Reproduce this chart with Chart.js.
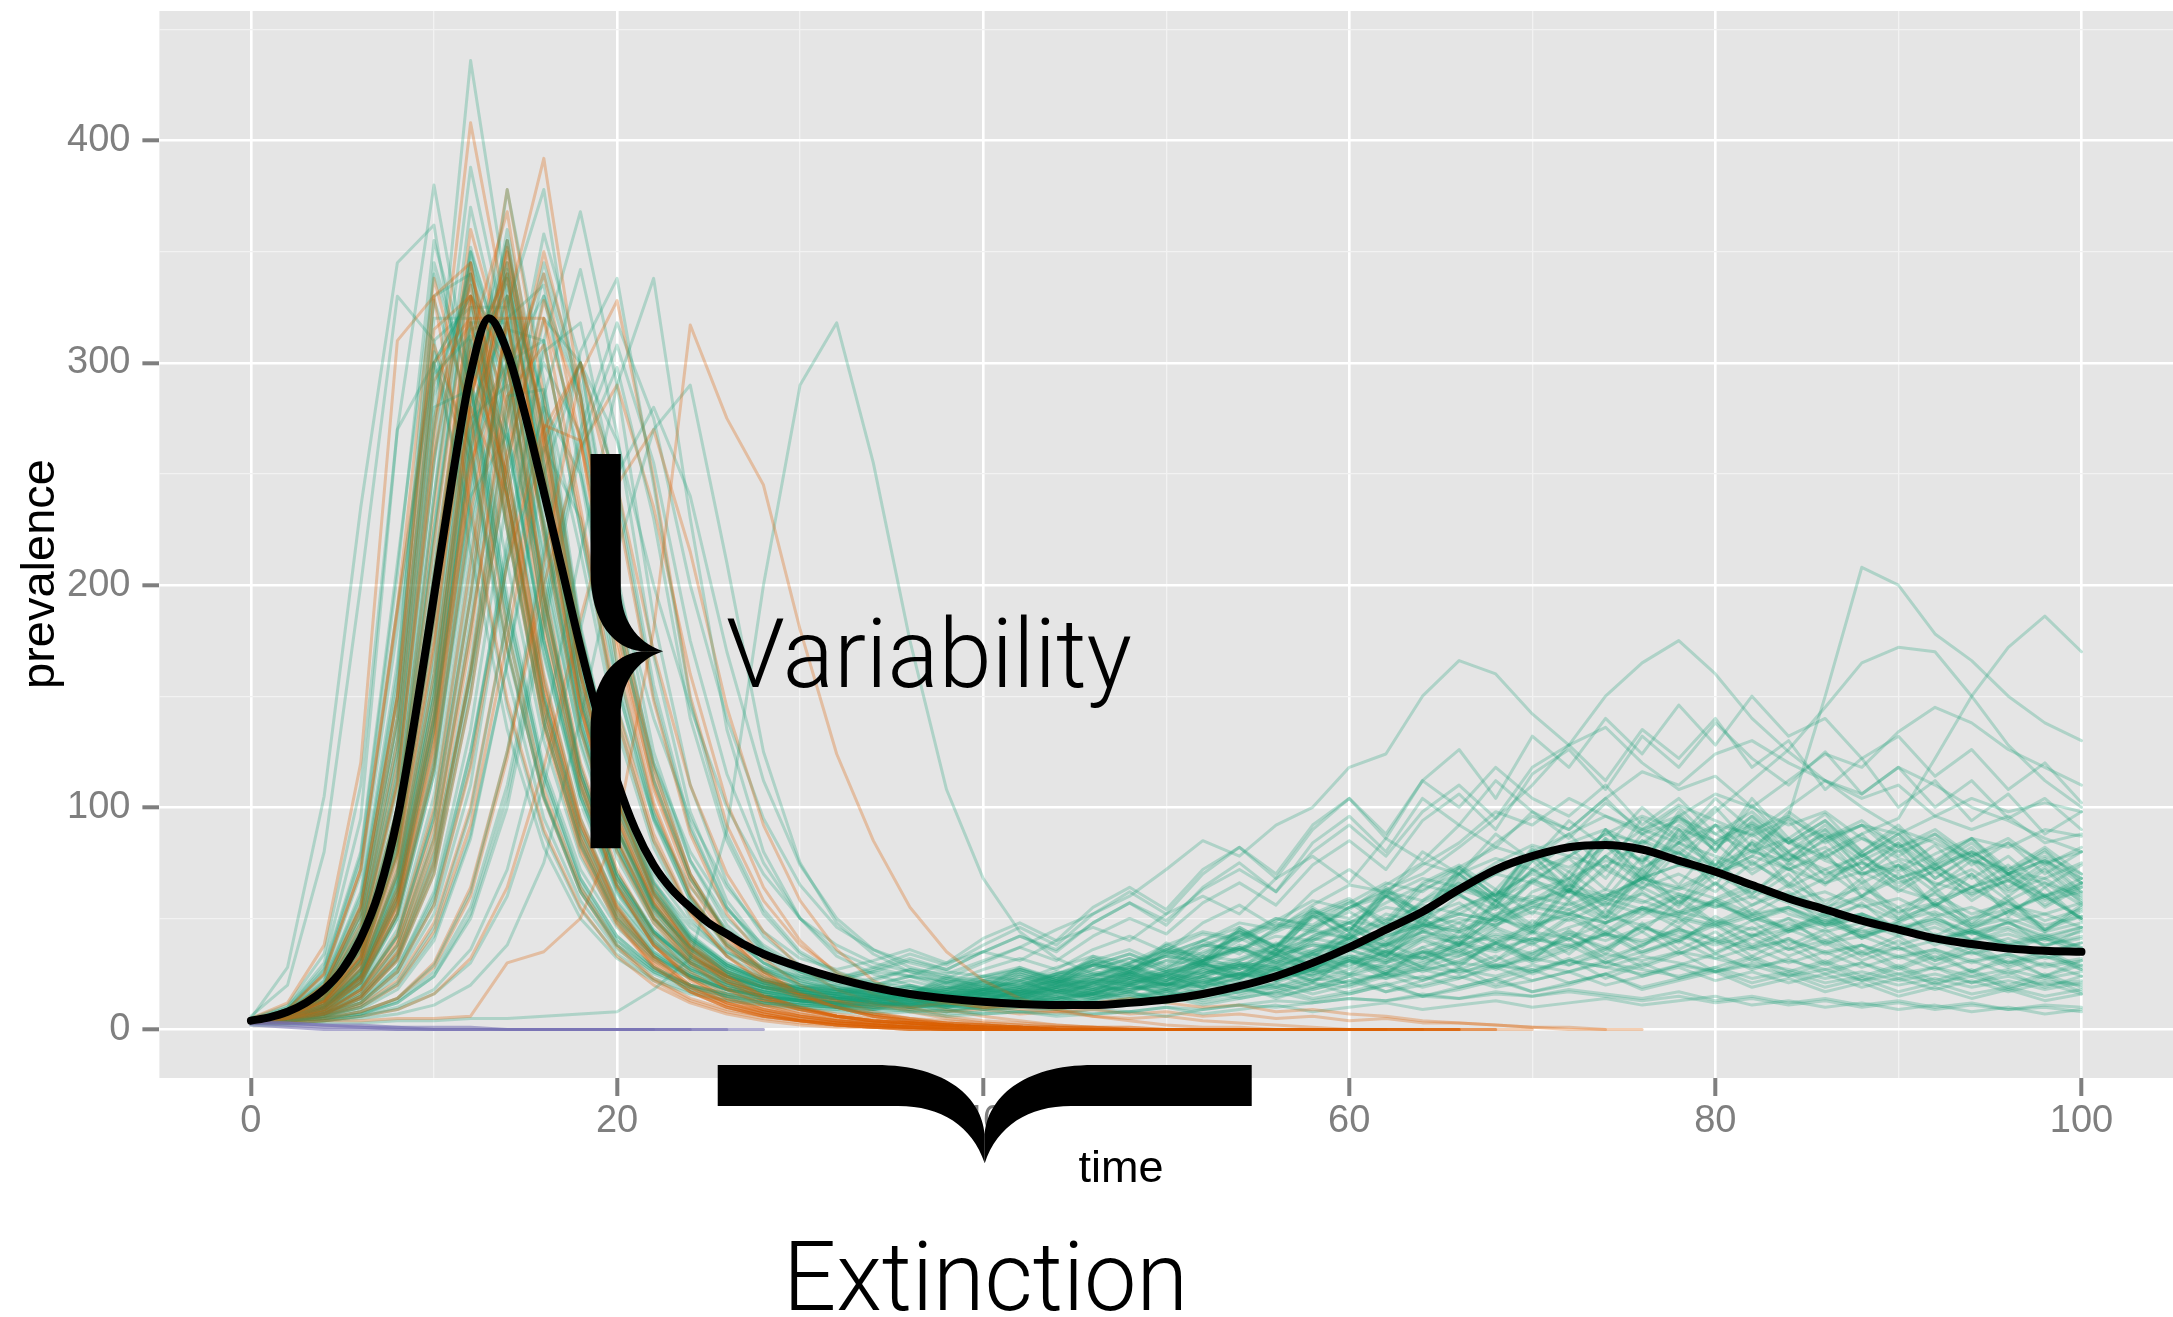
<!DOCTYPE html>
<html>
<head>
<meta charset="utf-8">
<script src="https://cdn.jsdelivr.net/npm/chart.js@4.4.1/dist/chart.umd.min.js"></script>
<style>
html,body{margin:0;padding:0;background:#ffffff;}
#wrap{width:2173px;height:1317px;}
</style>
</head>
<body>
<div id="wrap"><canvas id="c" width="2173" height="1317"></canvas></div>
<script>
// ---------- axes / tick values ----------
const timeSteps = [0,2,4,6,8,10,12,14,16,18,20,22,24,26,28,30,32,34,36,38,40,42,44,46,48,50,52,54,56,58,60,62,64,66,68,70,72,74,76,78,80,82,84,86,88,90,92,94,96,98,100];
const xGridValues = [0,10,20,30,40,50,60,70,80,90,100];
const xLabelValues = [0,20,40,60,80,100];
const yGridValues = [0,50,100,150,200,250,300,350,400,450];
const yLabelValues = [0,100,200,300,400];

// ---------- deterministic (black) curve ----------
const odeTime = [0,1,2,3,4,5,6,7,8,9,10,11,12,13,14,15,16,17,18,19,20,21,22,23,24,25,26,27,28,30,32,34,36,38,40,42,44,46,48,50,52,54,56,58,60,62,64,66,68,70,72,74,76,78,80,82,84,86,88,90,92,94,96,98,100];
const odeValues = [4,5.5,8,12,18,27,41,62,95,142,195,248,295,320,305,276,242,207,172,140,112,90,74,63,55,48,43,38,34,28,23,19,16,14,12.5,11.5,11,11,12,13.5,16,19.5,24,30,37,45,53,63,72,78,82,83,81,76,71,65,59,54,49,45,41,38.5,36.5,35.5,35];

// ---------- stochastic runs that persist (green) ----------
const g1 = [4,10,30,95,270,380,290,180,105,62,38,26,19,15,12,11,10,9,11,10,12,14,13,17,20,19,24,29,27,35,40,38,47,52,49,58,63,57,66,61,55,60,52,47,50,44,40,45,38,35,39];
const g2 = [3,6,16,42,115,270,436,330,200,115,68,44,30,22,18,15,14,13,15,17,16,20,24,22,28,33,31,40,47,44,55,62,58,70,77,72,84,90,83,95,88,80,86,76,70,74,66,61,67,58,62];
const g3 = [4,8,22,60,160,345,290,190,115,68,42,28,20,15,12,10,9,8,9,7,8,10,9,11,13,12,15,18,16,21,19,24,27,23,29,26,31,28,33,30,26,29,24,27,22,25,21,24,19,22,20];
const g4 = [3,5,11,26,68,155,295,355,255,155,92,56,37,26,20,17,16,18,17,21,24,22,28,33,30,38,44,41,50,46,55,60,54,63,58,67,62,56,61,53,58,50,46,51,44,48,41,45,39,43,37];
const g5 = [4,5,9,21,50,115,225,300,245,160,98,60,39,27,21,17,15,14,16,18,17,21,25,23,30,35,33,42,48,45,55,63,70,82,95,110,128,150,165,175,160,140,125,112,100,90,84,76,70,66,60];
const g6 = [3,5,8,19,42,95,195,325,378,275,165,98,60,38,27,20,17,15,16,14,17,19,18,22,26,24,31,36,34,42,49,46,57,64,60,71,78,73,85,79,74,81,72,66,71,63,58,64,56,52,57];
const g7 = [4,5,7,14,31,70,150,255,330,285,185,112,68,43,30,22,18,15,13,14,12,14,16,15,18,21,19,24,28,26,31,35,32,38,42,39,44,40,46,42,38,43,36,40,34,37,31,35,30,33,29];
const g8 = [4,7,19,50,135,295,312,225,138,83,50,33,24,18,15,13,12,11,13,12,15,17,16,20,24,22,27,32,38,35,43,50,46,55,61,57,65,60,68,63,70,64,58,62,55,59,51,55,48,52,46];
const g9 = [3,4,6,10,21,46,98,185,285,342,268,168,98,58,37,26,20,17,15,16,14,17,20,18,23,27,25,31,36,34,41,48,45,54,62,58,68,76,72,84,92,88,100,112,106,118,110,100,94,86,80];
const g10 = [3,4,5,8,14,29,62,125,215,305,338,245,148,88,54,35,26,21,19,17,18,16,19,22,20,25,29,27,33,38,35,42,47,44,51,56,52,59,54,61,56,51,55,48,52,45,49,43,46,40,44];
const g11 = [4,6,13,32,85,195,300,265,175,105,62,39,27,20,16,13,11,10,8,9,7,8,6,7,8,6,9,11,10,12,14,13,16,14,17,15,18,16,14,17,13,15,12,14,11,13,10,12,9,11,10];
const g12 = [5,28,105,235,345,362,262,160,95,58,36,25,18,14,12,11,10,12,11,14,17,16,21,26,24,31,38,36,45,53,50,60,68,64,75,83,78,88,96,90,85,93,84,78,86,77,72,80,71,68,75];
const g13 = [3,3,4,6,10,18,36,72,135,215,290,338,230,135,80,50,33,25,20,17,15,16,14,17,19,18,22,25,23,28,32,30,35,39,36,41,38,43,40,45,41,37,40,35,38,33,36,31,34,29,32];
const g14 = [3,5,11,27,70,160,290,338,245,150,90,55,36,25,19,16,14,13,15,14,16,18,17,20,23,21,26,30,28,34,39,37,44,50,47,55,62,58,68,74,70,78,96,150,208,200,178,166,150,138,130];
const g15 = [4,7,17,45,125,280,288,210,130,78,48,32,23,17,14,12,11,10,12,11,13,15,14,18,22,20,25,30,28,35,41,38,46,52,49,57,63,59,68,74,70,78,72,80,88,95,122,150,172,186,170];
const g16 = [2,2,3,3,4,4,5,5,6,7,8,18,32,90,200,290,318,255,175,108,68,44,32,25,22,20,22,25,24,28,33,31,37,42,40,47,52,48,55,51,47,52,45,49,43,46,40,44,38,41,36];
const g17 = [3,3,4,5,7,11,20,38,75,140,215,270,290,210,125,75,48,34,26,21,18,16,17,15,18,20,19,23,27,25,30,34,32,38,43,40,46,51,47,53,49,45,50,44,48,42,46,40,43,38,41];
const g18 = [3,6,14,38,100,240,352,290,185,110,65,41,28,20,16,13,12,14,12,15,19,17,23,21,27,33,30,38,34,45,41,52,48,60,54,66,59,72,64,70,62,75,66,58,64,55,61,52,57,49,54];
const g19 = [4,5,10,22,52,118,228,308,250,162,100,61,40,28,21,17,14,12,10,11,9,10,12,11,13,15,14,17,20,18,22,25,23,27,24,29,26,30,27,24,28,23,26,21,24,20,23,19,22,18,21];
const g20 = [4,8,22,62,165,328,280,185,112,66,40,27,20,16,14,13,13,15,14,17,20,19,24,29,27,34,40,48,45,56,65,62,74,84,98,92,104,96,88,94,83,90,79,72,78,68,73,64,69,60,65];
const g21 = [3,5,10,25,66,150,280,318,238,148,90,55,36,26,21,19,20,23,27,25,31,37,45,52,60,72,85,78,92,100,118,124,150,166,160,142,128,136,120,108,114,100,92,98,86,80,86,76,72,78,70];
const g22 = [3,5,8,17,38,85,180,285,288,215,135,82,50,33,24,18,15,13,14,12,15,14,18,16,21,25,23,29,26,33,38,35,42,39,47,53,49,57,52,60,55,63,57,51,56,49,53,46,50,44,48];
const g23 = [4,5,7,12,26,56,120,220,305,318,240,150,90,55,36,26,21,18,17,19,18,22,26,24,30,36,34,42,50,47,57,66,62,73,82,77,88,96,90,101,94,87,95,86,92,82,88,78,84,75,80];
const g24 = [4,8,20,55,150,330,340,240,145,86,52,34,24,18,14,12,10,9,10,8,10,12,11,13,15,14,17,20,18,22,25,23,27,30,28,32,29,34,31,35,32,28,31,27,30,25,28,24,27,23,26];
const g25 = [3,5,10,24,62,145,270,300,228,142,86,53,35,25,19,16,14,15,13,16,18,17,21,25,23,28,33,31,38,44,41,49,56,52,61,70,66,78,90,84,98,112,126,145,165,172,170,150,128,112,100];
const g26 = [3,4,7,15,33,75,160,275,358,300,195,118,70,44,30,22,18,16,15,17,16,19,22,21,26,31,29,36,42,40,48,55,52,62,70,66,78,88,84,96,106,100,112,124,118,134,145,138,126,118,110];
const g27 = [4,6,14,35,92,210,318,270,175,105,63,40,28,21,17,14,12,11,12,10,12,14,13,16,19,17,21,25,22,27,31,28,34,38,35,41,37,43,39,45,40,36,41,34,38,32,36,30,34,28,31];
const g28 = [3,5,9,21,52,120,240,342,270,172,104,63,41,29,22,18,16,14,15,13,16,15,19,22,20,25,29,27,33,38,36,43,48,45,52,57,54,61,57,64,59,66,60,55,60,53,57,50,54,47,51];
const g29 = [5,11,34,110,270,300,230,145,88,54,34,23,17,13,11,9,8,7,8,6,7,8,7,9,8,10,9,11,13,12,14,13,15,14,16,15,17,15,13,15,12,14,11,13,10,12,9,11,9,10,8];
const g30 = [3,4,6,9,18,40,86,165,260,300,245,155,92,55,35,25,19,16,14,13,14,12,14,16,15,18,21,19,23,27,25,30,35,33,39,44,41,48,54,51,58,64,60,68,75,71,79,86,82,90,87];
const g31 = [3,6,15,40,108,255,388,310,195,115,68,43,29,21,17,15,14,16,15,18,22,20,25,31,29,36,43,40,49,58,54,65,75,70,84,96,90,104,116,110,124,130,120,112,104,110,96,90,96,84,88];
const g32 = [4,5,11,26,64,140,240,268,205,130,80,50,34,24,18,15,13,11,12,10,11,13,12,14,16,15,18,21,19,23,21,25,28,26,29,27,31,28,25,29,26,30,27,23,26,22,25,21,24,20,22];
const g33 = [4,5,7,13,28,60,125,210,262,230,155,95,58,37,26,20,16,14,15,14,17,16,20,23,21,26,30,28,34,39,36,42,47,44,50,46,52,48,55,50,46,51,44,48,42,46,40,44,38,42,37];
const g34 = [3,4,5,7,12,24,50,100,180,260,298,230,140,85,52,34,25,20,17,15,16,14,16,19,18,22,26,24,29,34,32,38,44,41,48,55,52,60,68,64,72,80,76,85,92,88,96,104,98,102,98];
const g35 = [4,9,24,70,180,305,262,172,104,62,38,26,19,15,13,11,10,12,11,13,16,15,19,23,21,26,31,29,35,41,38,45,51,48,55,60,56,63,58,52,57,49,54,46,51,43,48,40,45,38,42];
const g36 = [3,5,10,23,58,135,265,378,292,182,110,66,42,29,22,18,16,17,15,18,21,20,25,29,27,33,38,36,44,51,48,57,65,61,70,78,73,82,76,84,78,72,79,70,75,66,71,62,67,59,64];
const g37 = [4,7,18,52,140,300,330,240,150,90,55,35,25,19,15,13,12,15,11,16,13,18,22,17,26,21,30,24,36,29,42,35,50,41,58,47,63,52,70,57,66,52,61,47,57,44,52,40,49,37,45];
const g38 = [3,5,12,30,80,185,310,330,230,140,84,52,34,24,19,16,14,18,13,20,16,24,19,29,23,35,28,44,33,52,40,61,47,70,55,79,62,86,68,90,72,84,65,80,60,74,55,70,51,64,49];
const g39 = [4,6,14,36,95,220,345,300,195,118,70,44,30,22,17,14,12,9,13,10,15,11,17,13,20,15,24,18,28,21,33,25,37,28,41,31,45,34,48,36,44,33,41,30,38,28,35,26,33,24,31];
const g40 = [3,5,9,22,56,130,255,350,280,175,105,64,42,30,23,19,17,21,16,24,19,28,22,33,26,39,31,46,37,55,44,64,52,73,60,82,68,90,75,96,80,101,84,94,78,88,72,82,67,77,62];
const g41 = [4,8,21,58,155,320,320,225,138,83,50,33,24,18,15,13,11,14,10,13,9,12,15,11,14,18,13,17,21,16,20,25,19,23,28,22,26,31,24,29,34,27,32,25,30,23,28,21,26,19,24];
const g42 = [3,5,10,25,64,150,285,340,250,155,94,58,38,27,21,17,15,12,16,13,18,14,21,16,25,19,30,23,36,28,43,33,50,39,58,45,66,51,72,57,77,61,73,56,68,52,64,48,60,45,56];
const g43 = [4,6,12,30,78,180,315,320,225,138,82,50,33,24,19,16,14,17,20,16,22,26,21,29,34,27,38,44,36,50,57,47,63,70,58,76,82,68,88,79,92,74,86,69,80,64,75,60,70,56,66];
const g44 = [3,4,7,15,34,78,165,280,345,290,185,112,68,43,30,23,19,16,20,15,18,22,17,21,26,20,25,30,23,28,34,26,31,37,29,35,41,32,38,44,35,41,33,39,31,37,29,35,28,33,27];
const g45 = [4,7,17,46,125,285,340,245,150,90,54,35,25,19,15,13,12,10,14,11,16,13,19,15,23,18,28,22,34,26,41,32,48,38,56,44,63,50,69,55,74,59,70,54,66,50,62,47,58,44,55];
const g46 = [3,5,11,27,70,165,300,345,245,150,90,56,37,26,20,17,15,19,14,21,17,25,20,30,24,36,29,43,35,51,42,60,49,68,56,76,62,83,67,88,71,92,74,86,69,81,64,76,60,72,57];
const g47 = [4,6,13,32,84,195,330,310,210,128,77,48,32,23,18,15,13,11,14,12,16,14,18,16,21,18,24,21,27,24,31,27,35,30,39,34,43,37,46,40,49,42,45,39,42,36,40,34,38,32,36];
const g48 = [3,4,8,18,42,98,205,320,335,250,155,94,58,38,27,21,18,15,19,16,21,18,24,20,28,23,33,27,39,32,46,38,54,45,63,52,71,59,78,65,84,70,80,66,76,62,72,58,68,55,64];
const g49 = [5,10,28,80,210,340,290,190,115,68,42,28,20,16,13,11,10,13,9,12,15,11,14,18,13,17,22,16,21,27,20,26,33,25,31,39,29,36,44,34,41,49,38,45,35,42,32,39,30,36,28];
const g50 = [3,5,10,24,60,140,270,355,265,165,100,61,40,28,22,18,16,14,17,15,19,17,22,19,25,22,29,25,33,29,38,33,44,38,51,44,58,50,64,56,70,61,75,65,79,68,74,64,70,60,66];
const g51 = [4,6,12,31,82,190,325,325,225,138,82,50,33,24,19,16,14,12,10,11,9,11,13,10,12,15,11,14,17,13,16,20,15,18,22,17,20,25,19,23,27,21,25,19,23,17,21,16,19,15,18];
const g52 = [3,5,9,21,52,122,245,335,275,172,104,63,41,29,22,18,16,19,15,22,18,26,21,31,25,37,30,45,36,54,44,63,52,72,60,81,67,90,74,98,80,104,86,97,80,92,75,86,70,81,66];
const g53 = [4,7,16,42,112,255,350,270,170,102,61,39,27,20,16,14,12,15,11,16,12,18,14,21,16,24,19,28,22,32,25,36,28,40,31,44,34,47,37,50,39,46,36,43,33,40,31,37,29,35,27];
const g54 = [3,4,7,16,38,88,185,300,330,255,160,97,60,39,28,21,18,15,13,15,12,15,18,14,17,21,16,20,25,19,24,29,22,27,33,25,31,37,28,34,40,31,37,29,35,27,33,26,31,24,29];
const g55 = [4,8,20,55,148,310,325,232,142,85,51,33,24,18,15,13,12,14,16,13,18,21,17,24,28,22,31,36,29,40,46,37,51,57,46,62,68,55,73,80,65,85,76,90,72,84,68,78,63,73,59];
const g56 = [3,5,11,28,72,170,305,340,240,148,89,55,36,26,20,16,14,12,15,13,17,15,20,17,23,20,27,23,31,27,36,31,41,35,46,40,51,44,55,48,59,52,55,49,52,46,50,44,48,42,46];
const g57 = [4,6,14,37,98,225,350,300,195,118,70,44,30,22,17,14,12,10,13,11,15,12,17,14,20,16,23,19,27,22,31,25,35,29,39,32,43,36,47,39,51,42,48,40,45,38,43,36,41,34,39];
const g58 = [3,4,6,12,28,62,135,240,320,300,205,125,76,47,32,24,19,17,15,16,14,16,19,16,20,24,19,23,28,22,27,33,26,31,38,30,36,43,34,40,47,37,44,52,41,48,56,45,53,60,50];
const g59 = [4,7,18,48,130,290,335,240,148,88,53,34,24,18,15,13,11,13,10,12,14,11,13,16,12,15,18,14,17,21,16,20,24,19,23,27,21,25,30,23,28,33,26,31,24,29,22,27,20,25,19];
const g60 = [3,5,10,23,58,135,260,345,270,170,103,62,41,29,22,18,16,19,22,18,24,28,23,31,36,29,40,46,37,52,59,47,65,73,60,80,88,72,95,85,100,82,94,77,88,72,83,68,78,64,74];
const g61 = [4,6,12,30,80,185,318,318,222,135,81,50,33,24,19,16,14,12,14,11,13,15,12,14,17,13,16,19,15,18,22,17,20,24,19,22,26,20,24,28,22,26,21,25,19,23,18,22,17,21,16];
const g62 = [3,5,9,20,50,115,235,330,285,180,110,67,43,30,23,19,17,20,16,23,19,27,22,32,26,38,31,45,37,53,44,62,51,70,58,78,64,85,70,90,74,94,77,88,72,83,68,79,64,75,61];
const g63 = [4,7,17,44,118,270,345,255,158,95,57,37,26,19,15,13,11,14,12,16,13,18,15,21,17,25,20,29,24,34,28,39,32,44,36,49,40,54,44,58,47,54,44,50,41,47,38,44,36,41,34];
const g64 = [3,4,8,19,45,105,215,315,310,225,140,85,53,35,26,20,17,15,18,16,20,17,23,19,26,22,30,25,34,29,39,33,45,38,51,43,57,48,62,52,66,56,62,53,59,50,56,47,53,45,51];
const g65 = [3,4,6,11,24,52,110,210,310,368,290,185,110,66,42,29,22,26,31,27,35,42,36,48,57,49,63,72,62,80,92,78,98,110,95,118,128,112,135,122,140,118,130,108,122,100,112,94,106,88,98];
const g66 = [3,4,5,7,13,26,55,110,190,270,318,275,200,140,95,65,46,36,30,26,24,27,23,29,34,28,37,44,38,51,58,49,66,74,63,80,71,86,76,92,81,96,84,90,78,86,74,80,70,76,66];
const g67 = [4,5,8,16,36,80,160,250,300,268,200,140,95,64,44,32,27,31,36,30,41,48,40,55,64,54,72,82,70,92,104,88,112,100,118,104,96,110,92,104,88,98,84,94,80,90,76,86,72,82,70];
const g68 = [6,20,80,200,330,310,215,135,82,50,32,22,16,13,11,10,9,11,14,10,13,17,12,16,21,15,20,26,19,25,31,23,29,36,27,34,41,30,38,46,34,42,50,38,46,55,42,50,58,45,53];
const g69 = [3,3,4,6,9,16,30,60,110,180,250,280,240,170,112,74,50,36,28,24,22,25,21,27,32,26,35,41,34,46,53,44,58,66,55,72,64,78,68,84,74,88,76,82,70,76,65,72,62,68,58];
const g70 = [3,6,15,38,100,240,370,300,190,115,70,45,32,25,21,19,18,22,27,23,30,37,31,42,50,43,57,66,56,74,85,72,94,106,90,115,126,108,132,118,138,122,110,125,106,118,100,112,95,104,90];
const g71 = [4,5,10,24,60,140,260,330,255,165,102,66,46,34,27,23,22,26,24,30,35,31,40,46,40,52,60,52,68,78,66,86,76,92,82,98,86,102,90,96,84,92,80,88,76,84,72,80,70,76,68];
const g72 = [4,9,26,75,190,300,255,170,105,64,40,27,20,16,13,12,11,9,12,8,11,14,10,13,17,12,16,20,14,19,24,17,22,28,20,26,32,23,29,35,26,32,24,30,22,28,20,26,18,24,17];
const g73 = [3,4,7,14,32,72,155,265,340,285,190,120,76,50,35,27,23,20,24,19,23,27,22,27,32,26,31,37,30,36,43,34,41,48,39,46,54,43,51,60,48,56,65,52,60,70,56,64,74,60,68];
const g74 = [4,6,13,34,90,205,310,265,175,108,66,43,31,24,20,18,17,20,24,21,27,32,27,36,42,35,48,56,46,62,72,60,80,70,88,76,94,82,100,86,104,90,96,84,92,78,88,74,84,70,80];
const g75 = [3,4,6,10,20,42,88,165,250,300,265,200,145,100,70,50,38,30,26,23,21,24,20,25,29,24,32,37,31,42,48,40,54,61,51,68,58,74,63,80,68,84,72,78,66,74,62,70,58,66,56];
const g76 = [4,7,19,52,140,300,330,240,150,92,58,38,27,21,17,15,14,12,11,13,10,12,15,11,14,17,12,15,19,14,17,21,15,19,23,17,21,25,18,22,26,19,23,17,21,15,19,14,18,13,16];
const g77 = [3,5,10,23,57,135,265,360,280,178,110,70,48,35,28,24,23,28,34,29,38,46,38,52,62,52,70,82,68,90,104,86,112,126,104,132,118,140,124,146,128,150,132,140,122,132,114,126,108,120,102];
const g78 = [4,5,11,27,68,155,275,290,215,135,84,54,37,28,22,19,18,16,19,15,18,22,17,21,25,20,24,29,22,27,32,25,30,35,28,33,38,30,35,40,32,37,30,35,28,33,27,31,25,30,24];
const g79 = [4,5,7,12,26,58,125,215,280,250,180,120,80,54,38,28,23,27,32,27,35,42,35,48,57,47,64,75,62,84,96,80,104,92,112,98,90,104,88,100,84,96,80,92,78,88,74,84,70,80,68];
const g80 = [3,6,14,36,95,225,340,285,185,112,68,44,31,24,19,17,15,13,16,14,18,16,21,18,24,20,28,23,32,27,36,30,40,34,45,38,50,42,54,46,58,49,55,47,52,45,50,43,48,41,46];
const g81 = [3,4,5,7,12,24,52,105,185,265,308,255,175,115,75,50,35,28,24,22,20,23,19,24,29,23,31,37,30,41,48,39,53,61,50,67,77,63,85,74,92,80,98,86,94,82,90,78,86,74,82];
const g82 = [4,9,27,78,205,355,295,195,118,72,46,31,23,18,15,14,13,16,14,18,22,19,25,30,25,34,40,34,46,54,45,60,52,66,58,72,62,78,66,82,70,76,64,72,60,68,56,64,54,60,50];
const g83 = [3,5,8,18,42,95,195,300,310,225,145,95,64,45,33,26,22,19,17,19,16,19,22,18,22,26,21,25,30,24,29,35,28,33,39,31,37,44,35,41,48,38,45,53,42,49,57,46,53,61,50];
const g84 = [4,6,13,32,85,190,290,250,168,105,65,42,30,23,19,17,15,13,11,9,10,8,9,7,8,10,7,9,11,8,10,12,9,11,13,10,12,14,11,13,15,11,13,10,12,9,11,8,10,7,9];
const greenRuns = [g1,g2,g3,g4,g5,g6,g7,g8,g9,g10,g11,g12,g13,g14,g15,g16,g17,g18,g19,g20,g21,g22,g23,g24,g25,g26,g27,g28,g29,g30,g31,g32,g33,g34,g35,g36,g37,g38,g39,g40,g41,g42,g43,g44,g45,g46,g47,g48,g49,g50,g51,g52,g53,g54,g55,g56,g57,g58,g59,g60,g61,g62,g63,g64,g65,g66,g67,g68,g69,g70,g71,g72,g73,g74,g75,g76,g77,g78,g79,g80,g81,g82,g83,g84];

// ---------- stochastic runs that go extinct after the first wave (orange) ----------
const o1 = [3,6,15,40,110,265,408,320,195,112,64,38,22,13,8,5,3,2,1,1,0,0,0,0,0,0];
const o2 = [4,5,11,27,70,160,285,338,240,145,85,50,30,18,11,7,4,3,2,1,1,0,0,0,0,0,0,0];
const o3 = [4,8,20,55,150,330,345,245,148,88,52,31,19,12,8,5,3,2,1,0,0,0,0,0];
const o4 = [3,5,9,21,52,118,232,318,250,160,98,60,37,24,15,10,7,5,3,2,1,1,0,0,0,0,0,0,0,0];
const o5 = [3,5,8,18,40,92,195,325,392,285,172,102,61,38,24,15,10,7,5,3,2,1,1,0,0,0,0,0,0];
const o6 = [4,6,13,33,88,200,298,250,160,95,56,33,20,12,7,4,2,1,0,0,0,0,0];
const o7 = [4,5,7,14,31,70,150,255,328,280,180,108,65,40,25,16,10,6,4,2,1,0,0,0,0,0,0,0,0,0,0,0];
const o8 = [3,3,4,4,5,5,6,30,35,50,90,180,317,275,245,180,124,85,55,35,22,14,9,6,4,2,1,1,0,0,0,0,0,0];
const o9 = [4,9,25,72,190,338,275,180,108,64,38,23,14,9,6,4,2,1,1,0,0,0,0,0,0,0];
const o10 = [3,5,12,30,78,175,310,368,265,160,95,57,35,22,14,9,6,4,3,2,1,1,0,0,0,0,0,0,0,0,0,0,0];
const o11 = [3,4,6,10,20,44,92,175,265,300,235,148,88,52,32,20,13,8,5,3,2,1,0,0,0,0,0,0];
const o12 = [4,6,13,32,85,190,280,240,155,92,54,32,19,11,7,4,3,2,1,1,0,0,0,0,0,0,0,0,0,0,0,0,0,0];
const o13 = [3,5,10,23,56,128,250,352,272,172,104,62,38,24,15,10,6,4,3,2,1,0,0,0,0,0];
const o14 = [4,7,18,48,130,292,318,225,136,80,47,28,17,10,6,4,2,1,0,0,0,0,0,0,0,0,0,0,0,0];
const o15 = [3,4,5,8,14,28,60,122,210,295,328,248,150,92,58,38,26,19,15,12,10,9,8,9,7,8,6,7,5,6,4,5,3,3,2,1,1,0,0];
const o16 = [3,5,8,17,38,86,180,285,308,230,140,85,52,33,22,16,13,11,10,12,10,11,9,12,14,12,10,11,8,9,7,6,4,3,2,1,0,0];
const o17 = [5,12,38,120,310,330,235,148,90,55,33,20,12,7,4,2,1,1,0,0,0,0,0];
const o18 = [4,5,7,12,26,56,118,210,272,265,190,118,70,42,26,16,10,6,4,2,1,1,0,0,0,0,0,0,0,0];
const o19 = [4,7,17,45,120,275,335,240,145,86,50,30,18,11,7,4,3,2,1,1,0,0,0,0,0,0,0];
const o20 = [3,5,11,28,74,172,305,340,240,145,86,51,31,19,12,8,5,3,2,1,1,0,0,0,0,0,0,0,0,0];
const o21 = [4,6,14,36,96,218,340,290,185,110,65,38,23,14,9,6,4,2,1,1,0,0,0,0,0,0];
const o22 = [3,5,9,21,54,125,248,345,270,170,102,61,37,23,15,10,6,4,3,2,1,1,0,0,0,0,0,0,0,0,0];
const o23 = [4,8,20,56,150,315,330,235,142,84,49,29,17,10,6,4,2,1,1,0,0,0,0,0];
const o24 = [3,4,7,15,35,82,175,295,340,265,165,100,60,37,23,15,10,6,4,3,2,1,1,0,0,0,0,0,0,0,0,0];
const o25 = [4,6,13,33,88,200,330,300,200,120,72,43,26,16,10,6,4,3,2,1,0,0,0,0,0,0,0,0];
const o26 = [3,5,10,25,64,150,285,350,255,155,93,56,34,21,13,9,6,4,3,2,1,1,0,0,0,0,0,0,0,0,0,0,0,0];
const o27 = [4,7,16,42,112,258,345,255,155,93,55,33,20,12,8,5,3,2,1,0,0,0,0,0,0,0];
const o28 = [3,4,8,18,43,100,210,320,320,235,145,88,53,33,21,14,10,7,5,4,3,2,1,1,0,0,0,0,0,0,0,0,0,0,0];
const o29 = [4,6,12,30,80,185,320,320,222,135,80,48,29,18,11,7,5,3,2,1,1,0,0,0,0,0,0];
const o30 = [3,5,9,22,57,132,262,355,262,160,96,57,35,22,14,9,6,4,3,2,1,1,0,0,0,0,0,0,0];
const o31 = [4,8,19,52,140,300,320,228,138,82,48,28,17,10,6,4,2,1,1,0,0,0,0,0,0];
const o32 = [3,5,10,24,62,145,275,330,245,150,90,54,33,21,13,9,6,4,3,2,2,1,1,1,0,0,0,0,0,0,0,0,0,0,0,0];
const o33 = [3,4,6,11,22,48,100,185,270,300,245,170,110,70,44,28,18,12,8,5,3,2,1,1,0,0,0,0,0,0,0,0];
const o34 = [4,5,7,15,34,76,160,260,320,265,175,110,68,42,26,16,10,6,4,2,1,1,0,0,0,0,0,0];
const o35 = [3,4,5,8,14,30,64,125,200,262,290,235,160,102,64,40,25,16,10,6,4,3,2,1,1,0,0,0,0,0,0,0,0,0];
const o36 = [4,5,10,24,60,138,255,300,228,145,90,58,38,26,19,15,12,10,9,8,9,7,8,6,5,6,4,3,2,1,0,0,0];
const o37 = [4,6,13,34,90,205,330,280,180,108,64,38,23,14,9,6,4,2,1,1,0,0,0,0,0,0,0,0,0];
const o38 = [3,4,7,14,32,74,162,275,350,285,185,114,70,43,27,17,11,7,4,3,2,1,0,0,0,0,0,0,0,0,0];
const o39 = [3,3,4,6,9,16,32,64,118,185,245,270,215,145,92,58,36,22,14,9,6,4,2,1,1,0,0,0,0,0,0,0,0,0,0];
const o40 = [4,9,25,72,188,308,262,172,104,62,37,22,13,8,5,3,2,1,0,0,0,0,0,0];
const o41 = [3,5,10,24,60,142,280,378,285,178,108,65,40,25,16,10,6,4,3,2,1,1,0,0,0,0,0,0,0,0];
const o42 = [3,6,15,38,100,235,360,300,192,115,68,40,24,15,9,6,4,3,2,1,1,0,0,0,0,0,0,0];
const orangeRuns = [o1,o2,o3,o4,o5,o6,o7,o8,o9,o10,o11,o12,o13,o14,o15,o16,o17,o18,o19,o20,o21,o22,o23,o24,o25,o26,o27,o28,o29,o30,o31,o32,o33,o34,o35,o36,o37,o38,o39,o40,o41,o42];

// ---------- runs that die out immediately (purple) ----------
const p1 = [3,2,1,1,0,0,0,0,0,0,0,0,0];
const p2 = [3,3,2,2,1,1,1,0,0,0,0,0,0,0];
const p3 = [4,3,2,1,1,0,0,0,0,0,0,0,0,0,0];
const p4 = [2,1,0,0,0,0,0,0,0,0,0,0];
const purpleRuns = [p1,p2,p3,p4];

// ---------- text ----------
const xTitle = 'time';
const yTitle = 'prevalence';
const labelVariability = 'Variability';
const labelExtinction = 'Extinction';

// ---------- build datasets ----------
function toPoints(vals, times) {
  const pts = [];
  for (let i = 0; i < vals.length && i < times.length; i++) pts.push({x: times[i], y: vals[i]});
  return pts;
}
const GREEN = 'rgba(27,158,119,0.27)';
const ORANGE = 'rgba(217,95,2,0.30)';
const PURPLE = 'rgba(117,112,179,0.55)';
const datasets = [];
datasets.push({
  label: 'deterministic', data: toPoints(odeValues, odeTime),
  borderColor: '#000000', borderWidth: 8, pointRadius: 0,
  cubicInterpolationMode: 'monotone', order: 0, fill: false
});
purpleRuns.forEach((r, i) => datasets.push({label: 'p' + i, data: toPoints(r, timeSteps), borderColor: PURPLE, borderWidth: 3, pointRadius: 0, order: 1, fill: false}));
const nRuns = Math.max(greenRuns.length, orangeRuns.length);
for (let i = 0; i < nRuns; i++) {
  if (orangeRuns[i]) datasets.push({label: 'o' + i, data: toPoints(orangeRuns[i], timeSteps), borderColor: ORANGE, borderWidth: 3, pointRadius: 0, order: 2, fill: false});
  if (greenRuns[i]) datasets.push({label: 'g' + i, data: toPoints(greenRuns[i], timeSteps), borderColor: GREEN, borderWidth: 3, pointRadius: 0, order: 2, fill: false});
}

// ---------- plugins ----------
const panelBg = {
  id: 'panelBg',
  beforeDraw(chart) {
    const {ctx, chartArea: a} = chart;
    ctx.save();
    ctx.fillStyle = '#ffffff';
    ctx.fillRect(0, 0, chart.width, chart.height);
    ctx.fillStyle = '#E5E5E5';
    ctx.fillRect(a.left, a.top, a.right - a.left, a.bottom - a.top);
    ctx.restore();
  }
};

function drawBrace(ctx, map, k) {
  const L = 394.4, M = L / 2;
  const half = (flip) => {
    const P = (u, v) => map((flip ? L - u : u) * k, v * k);
    ctx.beginPath();
    ctx.moveTo(...P(0, 0));
    ctx.lineTo(...P(0, 30.3));
    ctx.lineTo(...P(133.4, 30.3));
    ctx.bezierCurveTo(...P(165, 30.3), ...P(188, 45), ...P(M, 72.6));
    ctx.lineTo(...P(M, 51));
    ctx.bezierCurveTo(...P(195, 25), ...P(170, 0), ...P(116.7, 0));
    ctx.closePath();
    ctx.fill();
  };
  half(false);
  half(true);
}

function drawFitted(ctx, text, x, y, targetW, font) {
  ctx.save();
  ctx.font = font;
  ctx.textAlign = 'left';
  ctx.textBaseline = 'alphabetic';
  const w = ctx.measureText(text).width;
  ctx.translate(x, y);
  ctx.scale(targetW / w, 1);
  ctx.fillText(text, 0, 0);
  ctx.restore();
}

const annot = {
  id: 'annot',
  afterDraw(chart) {
    const {ctx, chartArea: a} = chart;
    const xs = chart.scales.x, ys = chart.scales.y;
    ctx.save();
    ctx.fillStyle = '#000000';
    // axis titles
    ctx.font = '47px "Liberation Sans", Arial, Helvetica, sans-serif';
    ctx.textAlign = 'center';
    ctx.textBaseline = 'alphabetic';
    ctx.save();
    ctx.translate(54, 574);
    ctx.rotate(-Math.PI / 2);
    ctx.fillText(yTitle, 0, 0);
    ctx.restore();
    ctx.font = '45px "Liberation Sans", Arial, Helvetica, sans-serif';
    ctx.fillText(xTitle, 1121, 1182);

    // vertical brace (variability)
    const vx = xs.getPixelForValue(18.55), vy = ys.getPixelForValue(259);
    drawBrace(ctx, (u, v) => [vx + v, vy + u], 1);
    // horizontal brace (extinction)
    const hx = xs.getPixelForValue(25.5), hy = a.bottom - 13;
    drawBrace(ctx, (u, v) => [hx + u, hy + v], 534 / 394.4);

    const bigFont = '300 97px Roboto, "Liberation Sans", Arial, sans-serif';
    drawFitted(ctx, labelVariability, 726, 687, 406, bigFont);
    drawFitted(ctx, labelExtinction, 783, 1310, 405, bigFont);
    ctx.restore();
  }
};

// ---------- chart ----------
const tickFont = {family: '"Liberation Sans", Arial, Helvetica, sans-serif', size: 38};
const isMajorX = v => xLabelValues.indexOf(v) >= 0;
const isMajorY = v => yLabelValues.indexOf(v) >= 0;

new Chart(document.getElementById('c').getContext('2d'), {
  type: 'line',
  data: {datasets},
  options: {
    responsive: false,
    animation: false,
    devicePixelRatio: 1,
    events: [],
    layout: {padding: {top: 11, left: 0, right: 0, bottom: 0}},
    plugins: {legend: {display: false}, tooltip: {enabled: false}},
    elements: {line: {tension: 0, borderJoinStyle: 'round', borderCapStyle: 'round'}, point: {radius: 0}},
    scales: {
      x: {
        type: 'linear', min: -5, max: 105, position: 'bottom',
        afterBuildTicks: s => { s.ticks = xGridValues.map(v => ({value: v})); },
        afterFit: s => { s.height = 239; s.paddingLeft = 0; s.paddingRight = 0; },
        border: {display: false},
        grid: {
          drawOnChartArea: true, drawTicks: true, tickLength: 18,
          color: c => (c.tick && isMajorX(c.tick.value)) ? '#FFFFFF' : '#F2F2F2',
          lineWidth: c => (c.tick && isMajorX(c.tick.value)) ? 2.6 : 1.3,
          tickColor: c => (c.tick && isMajorX(c.tick.value)) ? '#7F7F7F' : 'rgba(0,0,0,0)',
          tickWidth: 4
        },
        ticks: {
          autoSkip: false, maxRotation: 0, minRotation: 0, padding: 3,
          color: '#7F7F7F', font: tickFont,
          callback: v => isMajorX(v) ? String(v) : ''
        }
      },
      y: {
        type: 'linear', min: -21.8, max: 458.3, position: 'left',
        afterBuildTicks: s => { s.ticks = yGridValues.map(v => ({value: v})); },
        afterFit: s => { s.width = 159.4; s.paddingTop = 0; s.paddingBottom = 0; },
        border: {display: false},
        grid: {
          drawOnChartArea: true, drawTicks: true, tickLength: 17,
          color: c => (c.tick && isMajorY(c.tick.value)) ? '#FFFFFF' : '#F2F2F2',
          lineWidth: c => (c.tick && isMajorY(c.tick.value)) ? 2.6 : 1.3,
          tickColor: c => (c.tick && isMajorY(c.tick.value)) ? '#7F7F7F' : 'rgba(0,0,0,0)',
          tickWidth: 4
        },
        ticks: {
          autoSkip: false, padding: 12,
          color: '#7F7F7F', font: tickFont,
          callback: v => isMajorY(v) ? String(v) : ''
        }
      }
    }
  },
  plugins: [panelBg, annot]
});
</script>
</body>
</html>
